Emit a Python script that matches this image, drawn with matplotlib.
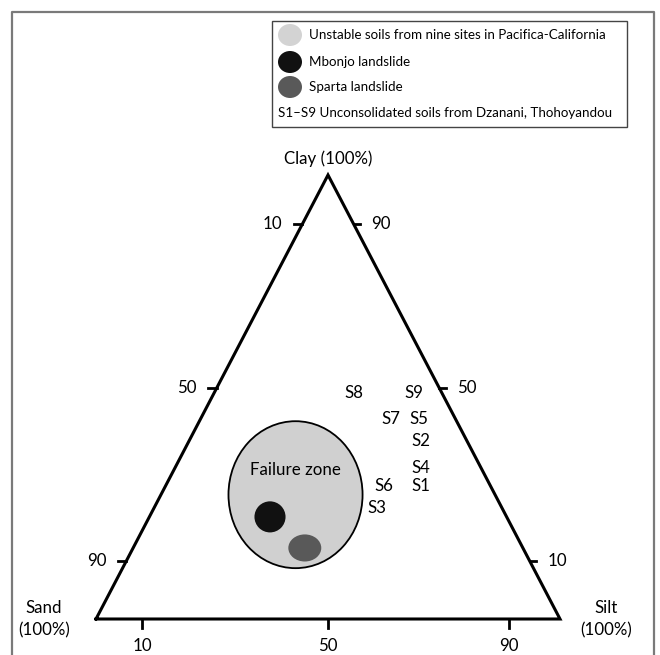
import matplotlib
matplotlib.use("Agg")
import matplotlib.pyplot as plt
from matplotlib.patches import Ellipse, Rectangle
from matplotlib.lines import Line2D

plt.rcParams['font.family'] = ['Lato', 'DejaVu Sans']

# sample labels S1-S9 as (sand, silt, clay) percent
sample_names = ['S1', 'S2', 'S3', 'S4', 'S5', 'S6', 'S7', 'S8', 'S9']
sample_sand = [15, 10, 27, 13, 8, 23, 14, 19, 6]
sample_silt = [55, 50, 48, 53, 47, 47, 41, 30, 43]
sample_clay = [30, 40, 25, 34, 45, 30, 45, 51, 51]

# failure zone and the two landslides (sand, silt, clay)
failure_zone = (43, 29, 28)
mbonjo = (51, 26, 23)
sparta = (47, 37, 16)

# tick labels on each side
tick_labels_left = ['10', '50', '90']     # sand
tick_labels_right = ['90', '50', '10']    # clay
tick_labels_bottom = ['10', '50', '90']   # silt
side_tick_clay = [89, 52, 13]
bottom_tick_silt = [10, 50, 89]

legend_labels = ['Unstable soils from nine sites in Pacifica-California',
                 'Mbonjo landslide', 'Sparta landslide']
legend_colors = ['#d3d3d3', '#111111', '#595959']
legend_note = 'S1\u2013S9 Unconsolidated soils from Dzanani, Thohoyandou'

W, H = 660, 655


def tern(sand, silt, clay):
    tot = float(sand + silt + clay)
    return (silt + clay / 2.0) / tot, clay / tot


def px(x, y):
    # figure pixel (from top-left) -> figure fraction
    return x / W, 1 - y / H


fig = plt.figure(figsize=(W / 100, H / 100), dpi=100)
ax = fig.add_axes([96 / W, 36 / H, 464 / W, 444 / H])
ax.set_xlim(0, 1)
ax.set_ylim(0, 1)
ax.axis('off')

# outer frame (open at the bottom)
fx = [px(12, 660)[0], px(12, 12)[0], px(654, 12)[0], px(654, 660)[0]]
fy = [px(12, 660)[1], px(12, 12)[1], px(654, 12)[1], px(654, 660)[1]]
fig.add_artist(Line2D(fx, fy, color='#7a7a7a', lw=1.6, transform=fig.transFigure))

# triangle
ax.plot([0, 1, 0.5, 0], [0, 0, 1, 0], color='black', lw=2.2,
        solid_joinstyle='miter', clip_on=False)

fs = 12.2
# left side ticks (sand)
for c, lab in zip(side_tick_clay, tick_labels_left):
    x, y = tern(100 - c, 0, c)
    ax.plot([x, x - 0.018], [y, y], color='black', lw=2, clip_on=False)
    ax.annotate(lab, (x, y), xytext=(-20, 0), textcoords='offset pixels',
                ha='right', va='center', fontsize=fs)
# right side ticks (clay)
for c, lab in zip(side_tick_clay, tick_labels_right):
    x, y = tern(0, 100 - c, c)
    ax.plot([x, x + 0.014], [y, y], color='black', lw=2, clip_on=False)
    ax.annotate(lab, (x, y), xytext=(18, 0), textcoords='offset pixels',
                ha='left', va='center', fontsize=fs)
# bottom ticks (silt)
for s, lab in zip(bottom_tick_silt, tick_labels_bottom):
    x, y = tern(100 - s, s, 0)
    ax.plot([x, x], [y, y - 0.02], color='black', lw=2, clip_on=False)
    ax.annotate(lab, (x, y), xytext=(0, -27), textcoords='offset pixels',
                ha='center', va='center', fontsize=fs)

# corner labels
ax.annotate('Clay (100%)', tern(0, 0, 100), xytext=(0, 16), textcoords='offset pixels',
            ha='center', va='center', fontsize=fs)
ax.annotate('Sand\n(100%)', tern(100, 0, 0), xytext=(-52, 0), textcoords='offset pixels',
            ha='center', va='center', fontsize=fs, linespacing=1.45)
ax.annotate('Silt\n(100%)', tern(0, 100, 0), xytext=(46, 0), textcoords='offset pixels',
            ha='center', va='center', fontsize=fs, linespacing=1.45)

# failure zone and landslides
fz = tern(*failure_zone)
ax.add_patch(Ellipse(fz, 0.289, 0.331, facecolor='#d0d0d0', edgecolor='black', lw=1.3))
ax.text(fz[0], fz[1] + 0.056, 'Failure zone', ha='center', va='center', fontsize=fs)
ax.add_patch(Ellipse(tern(*mbonjo), 0.067, 0.07, facecolor='#111111', edgecolor='none'))
ax.add_patch(Ellipse(tern(*sparta), 0.071, 0.061, facecolor='#595959', edgecolor='none'))

# sample labels
for name, sa, si, cl in zip(sample_names, sample_sand, sample_silt, sample_clay):
    x, y = tern(sa, si, cl)
    ax.text(x, y, name, ha='center', va='center', fontsize=fs)

# legend box
lfs = 9.6
x0, y0 = px(272, 127)
x1, y1 = px(627, 21)
fig.add_artist(Rectangle((x0, y0), x1 - x0, y1 - y0, transform=fig.transFigure,
                         facecolor='white', edgecolor='#444444', lw=1.0))
row_y = [35, 62, 87]
for ry, lab, col in zip(row_y, legend_labels, legend_colors):
    cx, cy = px(290, ry)
    fig.add_artist(Ellipse((cx, cy), 24 / W, 22 / H, transform=fig.transFigure,
                           facecolor=col, edgecolor='none'))
    tx, ty = px(309, ry)
    fig.text(tx, ty, lab, ha='left', va='center', fontsize=lfs)
tx, ty = px(278, 113)
fig.text(tx, ty, legend_note, ha='left', va='center', fontsize=lfs)

fig.savefig('out.png', dpi=100)
